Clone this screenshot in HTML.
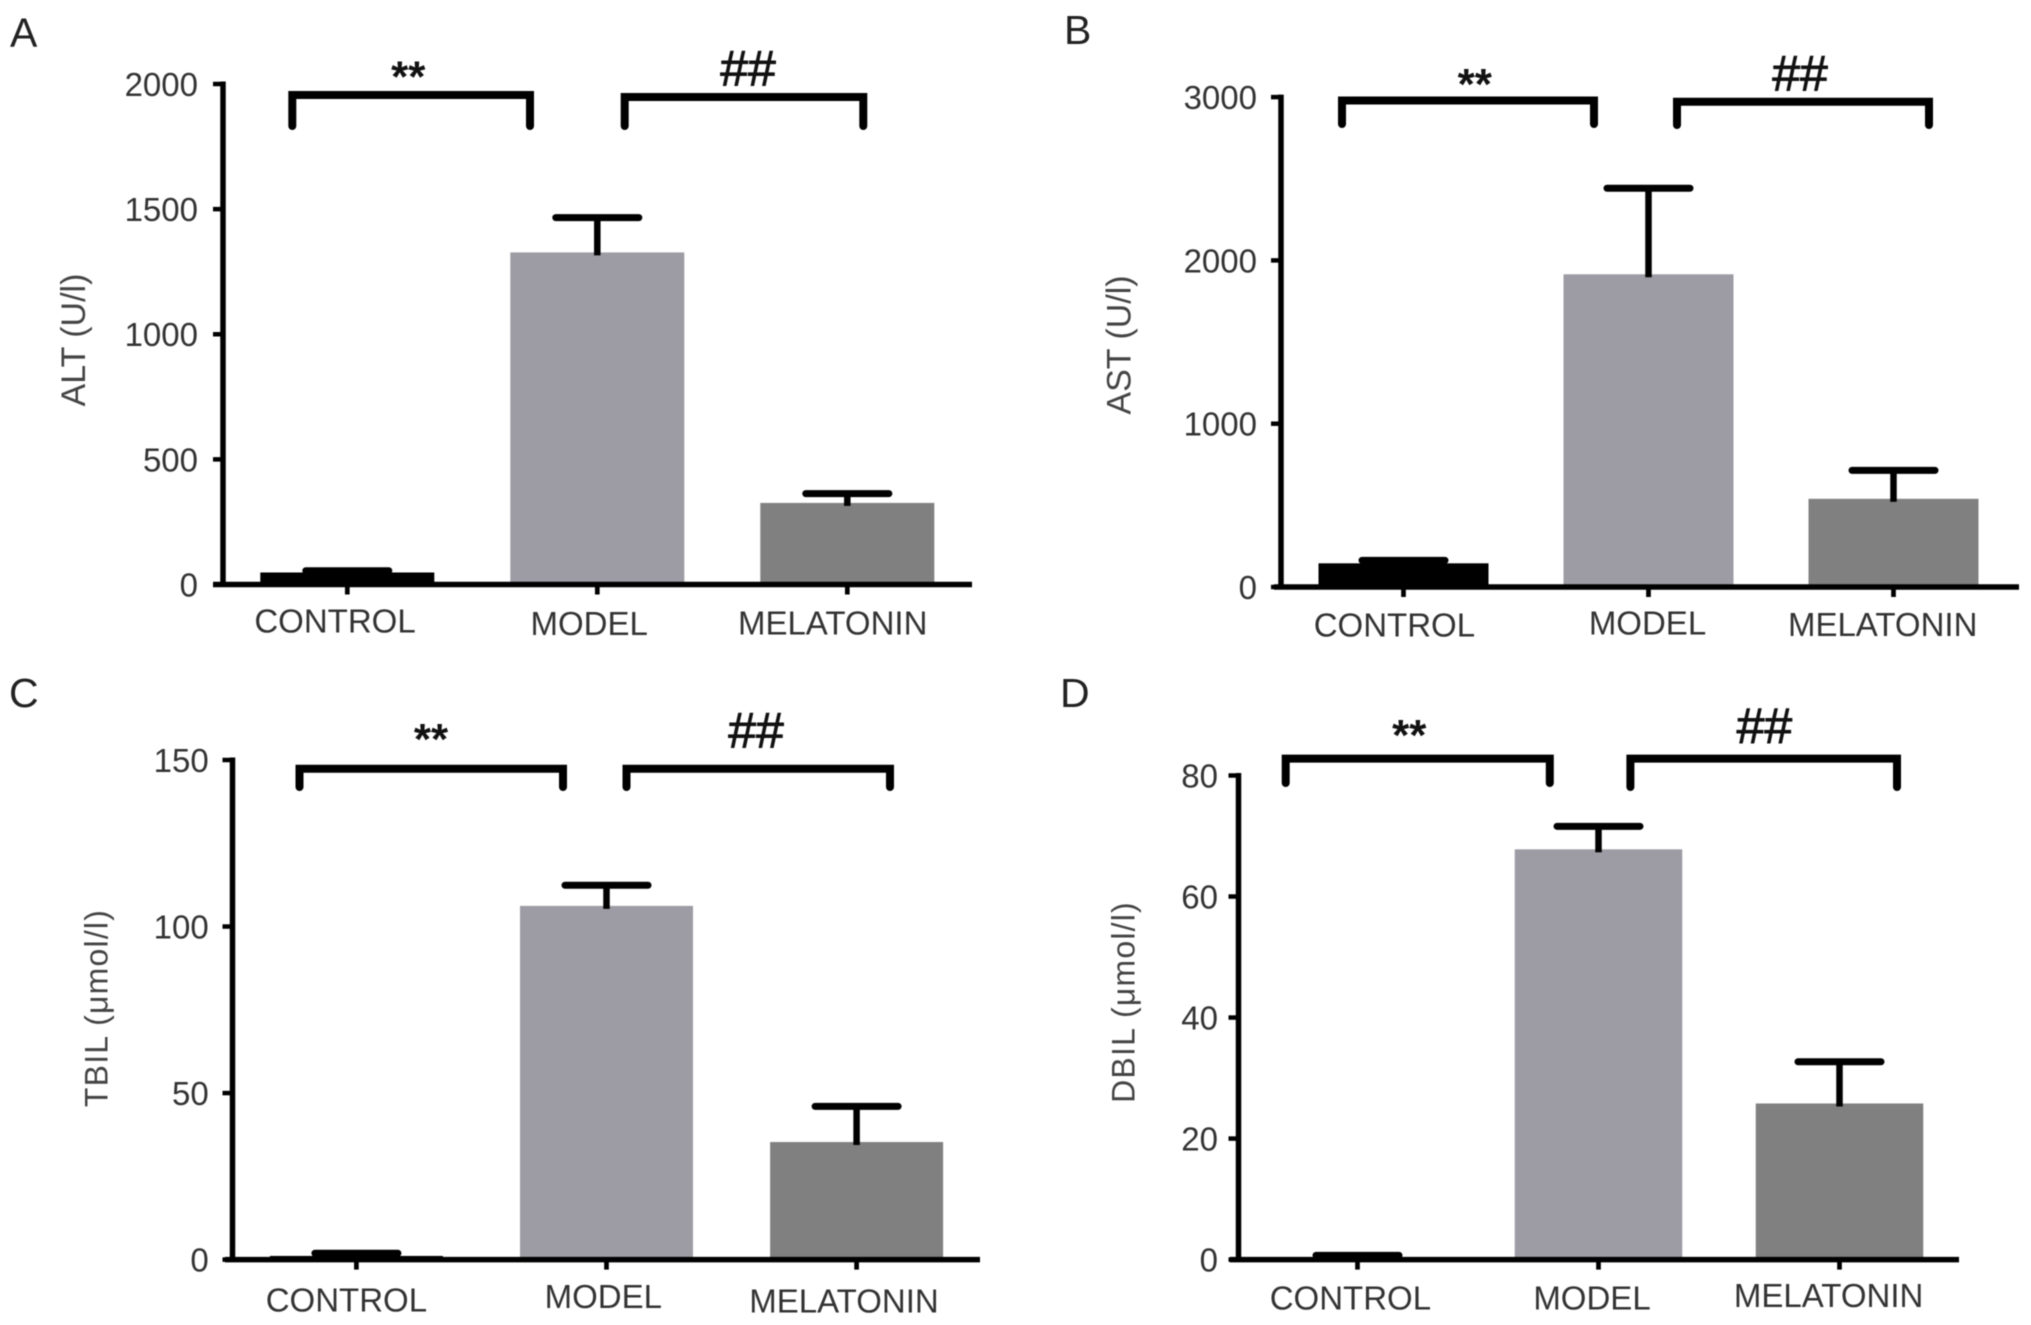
<!DOCTYPE html>
<html lang="en">
<head>
<meta charset="utf-8">
<title>Serum liver markers by group</title>
<style>
  html, body { margin: 0; padding: 0; background: #fff; }
  #figure { display: block; width: 2031px; height: 1325px; filter: blur(0.6px); }
  text { font-family: "Liberation Sans", sans-serif; }
</style>
</head>
<body>
<svg id="figure" xmlns="http://www.w3.org/2000/svg" width="2031" height="1325" viewBox="0 0 2031 1325"></svg>
<script>
// Shared category labels
const categories = ['CONTROL', 'MODEL', 'MELATONIN'];

// Panel A: ALT
const altMeans = [48, 1327, 326];
const altErrors = [7, 139, 37];
const altTicks = [0, 500, 1000, 1500, 2000];

// Panel B: AST
const astMeans = [145, 1915, 540];
const astErrors = [18, 527, 174];
const astTicks = [0, 1000, 2000, 3000];

// Panel C: TBIL
const tbilMeans = [1.1, 106.2, 35.3];
const tbilErrors = [0.8, 6.2, 10.7];
const tbilTicks = [0, 50, 100, 150];

// Panel D: DBIL
const dbilMeans = [0.35, 67.8, 25.8];
const dbilErrors = [0.35, 3.8, 6.9];
const dbilTicks = [0, 20, 40, 60, 80];

const barColors = ['#000000', '#9d9ca4', '#808080'];
const SVG_NS = 'http://www.w3.org/2000/svg';
const root = document.getElementById('figure');

function make(parent, tag, name, attrs) {
  const el = document.createElementNS(SVG_NS, tag);
  
  
  for (const k in attrs) el.setAttribute(k, attrs[k]);
  parent.appendChild(el);
  return el;
}

function label(parent, name, str, x, centerY, size, anchor, fill) {
  const t = make(parent, 'text', name, {
    x: x,
    y: centerY + size * 0.36,
    'font-size': size,
    'text-anchor': anchor,
    fill: fill
  });
  t.textContent = str;
  return t;
}

function bracket(parent, name, b) {
  make(parent, 'polyline', name, {
    points: [b.left + 4, b.bottom - 4, b.left + 4, b.top, b.right - 4, b.top, b.right - 4, b.bottom - 4].join(' '),
    fill: 'none',
    stroke: '#000',
    'stroke-width': 8,
    'stroke-linejoin': 'miter',
    'stroke-linecap': 'round'
  });
}

function drawPanel(p) {
  const g = make(root, 'g', 'panel-' + p.letter.toLowerCase(), {});
  const y = v => p.y0 - (v / p.yMax) * (p.y0 - p.yTop);
  const x = i => p.x0 + i * p.step;

  label(g, 'panel-letter', p.letter, p.letterX, p.letterY, 41, 'start', '#222');

  const yTitle = label(g, 'y-axis-title', p.title, 0, 0, p.titleSize, 'middle', '#444');
  yTitle.setAttribute('y', p.titleSize * 0.36);
  yTitle.setAttribute('letter-spacing', p.titleSpacing);
  yTitle.setAttribute('transform', 'translate(' + p.titleX + ' ' + p.titleY + ') rotate(-90)');

  // Bars
  p.means.forEach((m, i) => {
    make(g, 'rect', 'bar-' + categories[i].toLowerCase(), {
      x: x(i) - p.barW / 2,
      y: y(m),
      width: p.barW,
      height: p.y0 - y(m),
      fill: barColors[i]
    });
  });

  // Error bars
  p.means.forEach((m, i) => {
    const top = y(m + p.errors[i]);
    make(g, 'line', 'error-stem-' + categories[i].toLowerCase(), {
      x1: x(i), x2: x(i), y1: top, y2: y(m) + 3,
      stroke: '#000', 'stroke-width': 6.5
    });
    make(g, 'line', 'error-cap-' + categories[i].toLowerCase(), {
      x1: x(i) - 41.5, x2: x(i) + 41.5, y1: top, y2: top,
      stroke: '#000', 'stroke-width': 7, 'stroke-linecap': 'round'
    });
  });

  // Axes
  make(g, 'line', 'y-axis-line', {
    x1: p.axisX, x2: p.axisX, y1: y(p.yMax) - 2.5, y2: p.y0 + 2,
    stroke: '#000', 'stroke-width': 5.5
  });
  make(g, 'line', 'x-axis-line', {
    x1: p.axisLeft, x2: p.axisRight, y1: p.y0, y2: p.y0,
    stroke: '#000', 'stroke-width': 5.5
  });

  // Y ticks
  p.ticks.forEach(v => {
    make(g, 'line', 'y-tick-' + v, {
      x1: p.axisX - 10, x2: p.axisX, y1: y(v), y2: y(v),
      stroke: '#000', 'stroke-width': 4.5
    });
    label(g, 'y-tick-label-' + v, String(v), p.tickRight, y(v), 33, 'end', '#333');
  });

  // X ticks and category labels
  categories.forEach((c, i) => {
    make(g, 'line', 'x-tick-' + c.toLowerCase(), {
      x1: x(i), x2: x(i), y1: p.y0, y2: p.y0 + 10,
      stroke: '#000', 'stroke-width': 4.7
    });
    label(g, 'x-label-' + c.toLowerCase(), c, p.labelX[i], p.labelY[i], 33, 'middle', '#333');
  });

  // Significance annotations
  bracket(g, 'significance-bracket-control-model', p.b1);
  bracket(g, 'significance-bracket-model-melatonin', p.b2);
  const stars = make(g, 'text', 'significance-stars', {
    x: p.starX,
    y: p.starY + 44 * 0.57,
    'font-size': 44,
    'font-weight': 'bold',
    'text-anchor': 'middle',
    fill: '#111'
  });
  stars.textContent = '**';
  const hash = label(g, 'significance-hashes', '##', p.hashX, p.hashY, 50, 'middle', '#111');
  hash.setAttribute('stroke', '#111');
  hash.setAttribute('stroke-width', '0.9');
}

drawPanel({
  letter: 'A', letterX: 10, letterY: 31.5,
  title: 'ALT (U/l)', titleX: 72.6, titleY: 340, titleSize: 34, titleSpacing: 0,
  means: altMeans, errors: altErrors, ticks: altTicks, yMax: 2000,
  y0: 584.5, yTop: 84, x0: 347.3, step: 250, barW: 174,
  axisX: 223, axisLeft: 213, axisRight: 972, tickRight: 198,
  labelX: [335, 589.2, 832.7], labelY: [620.8, 623, 622.8],
  b1: { left: 288.3, right: 534, top: 95, bottom: 130 },
  b2: { left: 620.7, right: 867.3, top: 97, bottom: 130 },
  starX: 408.3, starY: 66.5, hashX: 748, hashY: 67.5
});

drawPanel({
  letter: 'B', letterX: 1064, letterY: 29,
  title: 'AST (U/l)', titleX: 1118.4, titleY: 345, titleSize: 34, titleSpacing: 0,
  means: astMeans, errors: astErrors, ticks: astTicks, yMax: 3000,
  y0: 587, yTop: 97.1, x0: 1403.5, step: 245, barW: 170,
  axisX: 1281, axisLeft: 1274, axisRight: 2019, tickRight: 1257,
  labelX: [1394.4, 1647.5, 1882.7], labelY: [624.8, 622.7, 624],
  b1: { left: 1338, right: 1598, top: 100.5, bottom: 128 },
  b2: { left: 1673, right: 1933, top: 101.8, bottom: 129 },
  starX: 1474.8, starY: 74, hashX: 1800, hashY: 72.6
});

drawPanel({
  letter: 'C', letterX: 9, letterY: 692,
  title: 'TBIL (\u03bcmol/l)', titleX: 96, titleY: 1008, titleSize: 32, titleSpacing: 1.2,
  means: tbilMeans, errors: tbilErrors, ticks: tbilTicks, yMax: 150,
  y0: 1259.6, yTop: 760, x0: 356.4, step: 250.1, barW: 173,
  axisX: 232.5, axisLeft: 225, axisRight: 980, tickRight: 208.7,
  labelX: [346.4, 603.3, 844], labelY: [1299.5, 1296, 1300.4],
  b1: { left: 295.5, right: 567, top: 768.8, bottom: 791 },
  b2: { left: 622.5, right: 894, top: 768.8, bottom: 791 },
  starX: 431, starY: 729, hashX: 756, hashY: 729.5
});

drawPanel({
  letter: 'D', letterX: 1060, letterY: 692,
  title: 'DBIL (\u03bcmol/l)', titleX: 1123, titleY: 1002, titleSize: 32, titleSpacing: 1.2,
  means: dbilMeans, errors: dbilErrors, ticks: dbilTicks, yMax: 80,
  y0: 1259.6, yTop: 775.5, x0: 1357.5, step: 241, barW: 167.5,
  axisX: 1238.5, axisLeft: 1230, axisRight: 1959, tickRight: 1218,
  labelX: [1350.4, 1592, 1828.6], labelY: [1297.4, 1297.4, 1295.3],
  b1: { left: 1281.7, right: 1553.8, top: 758.6, bottom: 787 },
  b2: { left: 1626.4, right: 1901, top: 758.6, bottom: 791 },
  starX: 1409.3, starY: 724.7, hashX: 1764.4, hashY: 725
});
</script>
</body>
</html>
